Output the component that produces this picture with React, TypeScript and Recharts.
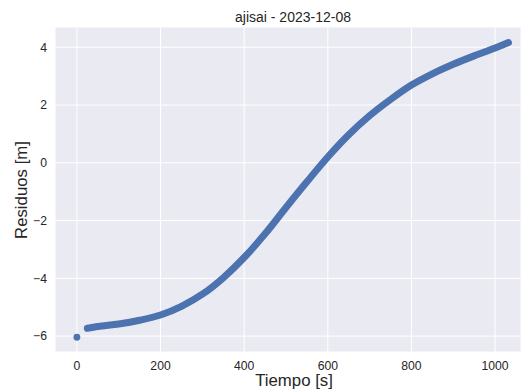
import { ComposedChart, Line, Scatter, XAxis, YAxis, CartesianGrid, Label } from 'recharts';

const BLUE = '#4C72B0';
const PANEL = '#EAEAF2';
const TEXT = '#262626';
const FONT = '"Liberation Sans", Arial, sans-serif';

// residual track (seconds, metres)
const TIME = [25, 50, 100, 150, 200, 250, 300, 350, 400, 450, 500, 550, 600, 650, 700, 750, 800, 850, 900, 950, 1000, 1032];
const RESID = [-5.73, -5.67, -5.58, -5.45, -5.27, -4.97, -4.55, -3.98, -3.28, -2.46, -1.55, -0.66, 0.2, 0.97, 1.63, 2.19, 2.69, 3.08, 3.41, 3.7, 3.97, 4.16];

// lone first sample
const FIRST_TIME = [0];
const FIRST_RESID = [-6.04];

const X_TICKS = [0, 200, 400, 600, 800, 1000];
const Y_TICKS = [-6, -4, -2, 0, 2, 4];

const curve = TIME.map((t, i) => ({ t, v: RESID[i] }));
const first = FIRST_TIME.map((t, i) => ({ t, v: FIRST_RESID[i] }));

const fmt = (v: number) => String(v).replace('-', '\u2212');

export default function App() {
  return (
    <div style={{ position: 'absolute', left: 0, top: 0, width: 521, height: 390, background: '#fff', fontFamily: FONT }}>
      <div
        style={{
          position: 'absolute', left: 0, top: 10, width: 586, textAlign: 'center',
          fontSize: 14, lineHeight: '14px', color: TEXT,
        }}
      >
        ajisai - 2023-12-08
      </div>
      <ComposedChart width={521} height={390} margin={{ top: 27, right: 0, bottom: 0, left: 0 }}>
        <CartesianGrid fill={PANEL} stroke="#ffffff" strokeWidth={1} />
        <XAxis
          type="number"
          dataKey="t"
          domain={[-52.4, 1062]}
          ticks={X_TICKS}
          allowDataOverflow
          axisLine={false}
          tickLine={false}
          tickMargin={3}
          height={38}
          tick={{ fontSize: 12.2, fill: TEXT, fontFamily: FONT }}
        >
          <Label
            content={() => (
              <text x={294} y={386} textAnchor="middle" fontSize={16.8} fill={TEXT} fontFamily={FONT}>
                Tiempo [s]
              </text>
            )}
          />
        </XAxis>
        <YAxis
          type="number"
          dataKey="v"
          domain={[-6.55, 4.7]}
          ticks={Y_TICKS}
          allowDataOverflow
          axisLine={false}
          tickLine={false}
          width={55}
          tickFormatter={fmt}
          tick={{ fontSize: 12.2, fill: TEXT, fontFamily: FONT }}
        >
          <Label
            content={() => (
              <text
                x={26.5}
                y={190}
                transform="rotate(-90, 26.5, 190)"
                textAnchor="middle"
                fontSize={16.8}
                fill={TEXT}
                fontFamily={FONT}
              >
                Residuos [m]
              </text>
            )}
          />
        </YAxis>
        <Line
          data={curve}
          dataKey="v"
          type="monotone"
          stroke={BLUE}
          strokeWidth={7}
          strokeLinecap="round"
          dot={false}
          activeDot={false}
          isAnimationActive={false}
        />
        <Scatter
          data={first}
          dataKey="v"
          fill={BLUE}
          shape={(p: any) => <circle cx={p.cx} cy={p.cy} r={3.4} fill={BLUE} />}
          isAnimationActive={false}
        />
      </ComposedChart>
    </div>
  );
}
